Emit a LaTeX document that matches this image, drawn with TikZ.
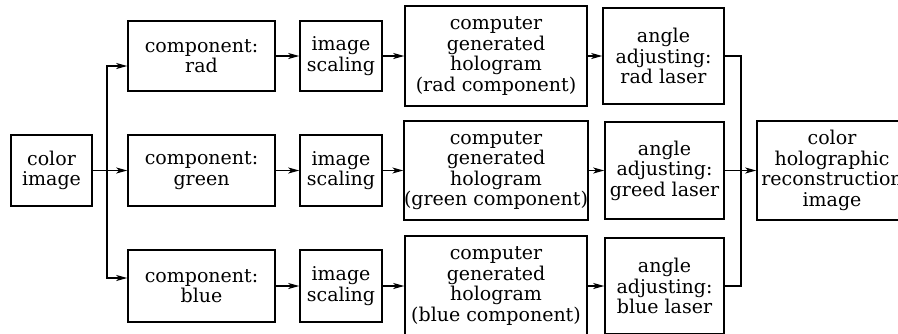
\documentclass[tikz,border=0pt]{standalone}
\usepackage{fontspec}
\setmainfont{DejaVu Serif}
\usetikzlibrary{arrows.meta}
\begin{document}
\begin{tikzpicture}[x=1pt,y=-1pt,
  box/.style={draw,line width=1.5pt,inner sep=0pt,align=center,
    font=\fontsize{19}{20.5}\selectfont},
  conn/.style={line width=1.2pt,-{Stealth[length=11pt,width=6pt,inset=3pt]}},
  line/.style={line width=1.3pt}]
\useasboundingbox (0,0) rectangle (898,333);
\begin{scope}
\clip (0,0) rectangle (898,333);
% boxes: centre, width, height
\node[box,minimum width=81,minimum height=71] (ci) at (51.5,170.5) {color\\image};
\node[box,minimum width=147,minimum height=70] (c1) at (201.5,56) {component:\\rad};
\node[box,minimum width=147,minimum height=71] (c2) at (201.5,170.5) {component:\\green};
\node[box,minimum width=147,minimum height=72] (c3) at (201.5,286) {component:\\blue};
\node[box,minimum width=82,minimum height=70] (s1) at (341,56) {image\\scaling};
\node[box,minimum width=82,minimum height=71] (s2) at (341,170.5) {image\\scaling};
\node[box,minimum width=82,minimum height=72] (s3) at (341,286) {image\\scaling};
\node[box,minimum width=182,minimum height=100] (h1) at (496,56) {computer\\generated\\hologram\\(rad component)};
\node[box,minimum width=182,minimum height=99] (h2) at (496,170.5) {computer\\generated\\hologram\\(green component)};
\node[box,minimum width=182,minimum height=100] (h3) at (496,286) {computer\\generated\\hologram\\(blue component)};
\node[box,minimum width=121,minimum height=96] (a1) at (663.5,56) {angle\\adjusting:\\rad laser};
\node[box,minimum width=119,minimum height=97] (a2) at (664.5,170.5) {angle\\adjusting:\\greed laser};
\node[box,minimum width=119,minimum height=96] (a3) at (664.5,286) {angle\\adjusting:\\blue laser};
\node[box,minimum width=150,minimum height=99] (f) at (832,170.5) {color\\holographic\\reconstruction\\image};
% split
\coordinate (sp) at (107,170.5);
\coordinate (jn) at (741,170.5);
\draw[line] (ci.east) -- (sp);
\draw[conn] (sp) |- ([yshift=-10]c1.west);
\draw[conn] (sp) -- (c2.west);
\draw[conn] (sp) |- ([yshift=8]c3.west);
\foreach \i in {1,2,3}{
  \draw[conn] (c\i.east) -- (s\i.west);
  \draw[conn] (s\i.east) -- (h\i.west);
  \draw[conn] (h\i.east) -- (a\i.west);
}
\draw[line] (a1.east) -| (jn);
\draw[line] (a3.east) -| (jn);
\draw[conn] (a2.east) -- (f.west);
\end{scope}
\end{tikzpicture}
\end{document}
